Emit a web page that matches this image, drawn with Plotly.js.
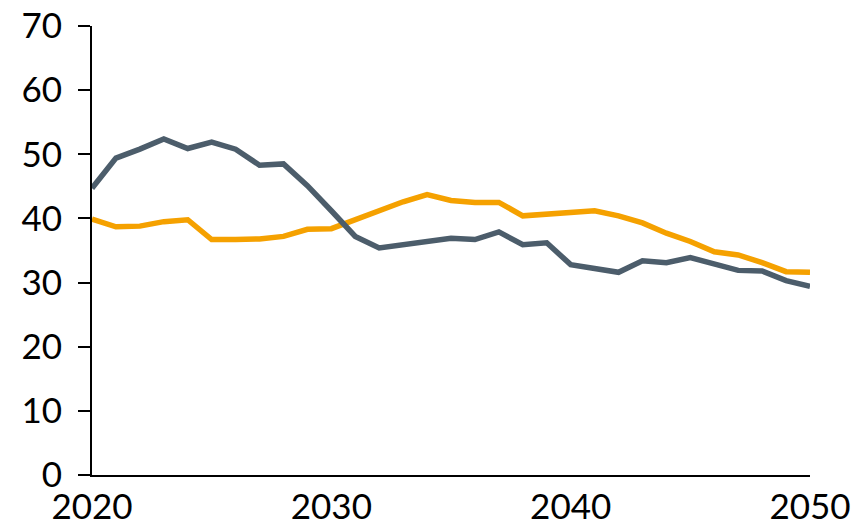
<!DOCTYPE html>
<html>
<head>
<meta charset="utf-8">
<script src="https://cdn.plot.ly/plotly-3.0.1.min.js"></script>
<style>
html,body{margin:0;padding:0;background:#fff;}
#chart{width:856px;height:526px;}
</style>
</head>
<body>
<div id="chart"></div>
<script>
var years = [];
for (var y = 2020; y <= 2050; y++) years.push(y);

var seriesDark = [44.7, 49.4, 50.8, 52.4, 50.9, 51.9, 50.8, 48.3, 48.5, 45.1,
  41.2, 37.2, 35.4, 35.9, 36.4, 36.9, 36.7, 37.9, 35.9, 36.2,
  32.8, 32.2, 31.6, 33.4, 33.1, 33.9, 33.0, 31.9, 31.8, 30.3, 29.4];
var seriesOrange = [39.9, 38.7, 38.8, 39.5, 39.8, 36.7, 36.7, 36.8, 37.2, 38.3,
  38.4, 39.8, 41.4, 42.6, 43.7, 42.8, 42.5, 42.5, 40.4, 40.7,
  41.0, 41.2, 40.4, 39.3, 37.7, 36.4, 34.8, 34.3, 33.1, 31.7, 31.6];

var xTicks = [2020, 2030, 2040, 2050];
var yTicks = [0, 10, 20, 30, 40, 50, 60, 70];

var traces = [
  {x: years, y: seriesOrange, type: 'scatter', mode: 'lines',
   line: {color: '#f5a100', width: 5.5}, hoverinfo: 'none'},
  {x: years, y: seriesDark, type: 'scatter', mode: 'lines',
   line: {color: '#4c5d6b', width: 5.5}, hoverinfo: 'none'}
];

var layout = {
  width: 856, height: 526,
  margin: {l: 92, r: 46, t: 26, b: 51, pad: 0},
  showlegend: false,
  paper_bgcolor: '#fff', plot_bgcolor: '#fff',
  font: {family: 'Lato, sans-serif', size: 35, color: '#000'},
  xaxis: {
    range: [2020, 2050], tickvals: xTicks, ticktext: xTicks.map(String),
    showgrid: false, zeroline: false, showline: true, linecolor: '#000', linewidth: 2,
    ticks: '', ticklabelstandoff: 0
  },
  yaxis: {
    range: [0, 70], tickvals: yTicks, ticktext: yTicks.map(String),
    showgrid: false, zeroline: false, showline: true, linecolor: '#000', linewidth: 2,
    ticks: 'outside', ticklen: 12, tickwidth: 2, tickcolor: '#000',
    ticklabelstandoff: 9
  }
};

Plotly.newPlot('chart', traces, layout, {staticPlot: true, displayModeBar: false});
</script>
</body>
</html>
